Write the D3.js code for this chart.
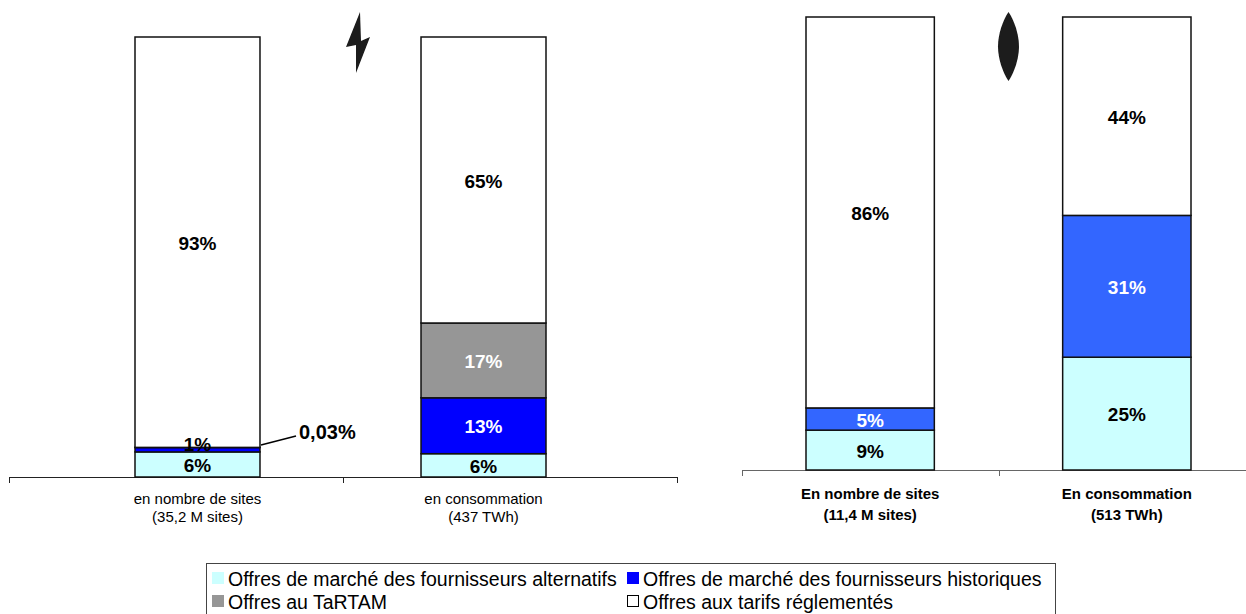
<!DOCTYPE html>
<html>
<head>
<meta charset="utf-8">
<script src="https://cdn.jsdelivr.net/npm/d3@7"></script>
<style>
  html, body { margin: 0; padding: 0; background: #fff; overflow: hidden; }
  svg { display: block; }
  text { font-family: "Liberation Sans", Arial, sans-serif; fill: #000; }
  .value { font-size: 19px; font-weight: bold; text-anchor: middle; dominant-baseline: central; }
  .cat { font-size: 15px; text-anchor: middle; }
  .legend { font-size: 19.5px; dominant-baseline: central; }
</style>
</head>
<body>
<div id="chart"></div>
<script>
const seriesKeys = ['alternatifs', 'historiques', 'tartam', 'reglementes'];

const elecCategories = ['en nombre de sites', 'en consommation'];
const elecSubLabels = ['(35,2 M sites)', '(437 TWh)'];
const elecAlternatifs = [5.7, 5.3];
const elecHistoriques = [1, 12.7];
const elecTartam = [0.03, 17];
const elecReglementes = [93.27, 65];
const elecLabels = [['6%', '1%', '', '93%'], ['6%', '13%', '17%', '65%']];

const gazCategories = ['En nombre de sites', 'En consommation'];
const gazSubLabels = ['(11,4 M sites)', '(513 TWh)'];
const gazAlternatifs = [8.8, 24.9];
const gazHistoriques = [4.9, 31.3];
const gazTartam = [0, 0];
const gazReglementes = [86.3, 43.8];
const gazLabels = [['9%', '5%', '', '86%'], ['25%', '31%', '', '44%']];

const legendLabels = [
  'Offres de marché des fournisseurs alternatifs',
  'Offres de marché des fournisseurs historiques',
  'Offres au TaRTAM',
  'Offres aux tarifs réglementés'
];
const legendColors = ['#ccffff', '#0000ff', '#969696', '#ffffff'];

const svg = d3.select('#chart')
  .append('svg')
  .attr('width', 1246)
  .attr('height', 614);

svg.append('filter').attr('id', 'soft')
  .append('feGaussianBlur').attr('stdDeviation', 0.6);

function toRows(categories, a, b, c, d) {
  return categories.map((name, i) => ({
    name, alternatifs: a[i], historiques: b[i], tartam: c[i], reglementes: d[i]
  }));
}

function drawPanel(opts) {
  const rows = opts.rows;
  const y = d3.scaleLinear().domain([0, 100]).range([opts.bottom, opts.top]);
  const band = d3.scaleBand()
    .domain(rows.map(d => d.name))
    .range(opts.barRange)
    .paddingInner(opts.padding)
    .paddingOuter(0);
  const edges = d3.scaleLinear().domain([0, 2]).range(opts.xRange);
  const color = d3.scaleOrdinal().domain(seriesKeys).range(opts.colors);
  const stacked = d3.stack().keys(seriesKeys)(rows);

  const g = svg.append('g');

  // axis with ticks between the categories
  const axis = d3.axisBottom(edges).tickValues([0, 1, 2]).tickFormat('').tickSize(6).tickSizeOuter(0);
  const ax = g.append('g').attr('transform', `translate(0, ${opts.bottom})`).call(axis);
  ax.selectAll('path, line').attr('stroke', opts.axisColor).attr('stroke-width', 1);

  stacked.forEach(layer => {
    g.append('g').selectAll('rect')
      .data(layer.filter(d => d[1] > d[0]))
      .enter()
      .append('rect')
      .attr('x', d => band(d.data.name))
      .attr('width', band.bandwidth())
      .attr('y', d => y(d[1]))
      .attr('height', d => y(d[0]) - y(d[1]))
      .attr('fill', color(layer.key))
      .attr('stroke', '#111')
      .attr('stroke-width', 1.5);
  });

  stacked.forEach((layer, k) => {
    layer.forEach((d, i) => {
      const label = opts.labels[i][k];
      if (!label) return;
      const white = opts.whiteText.includes(label);
      const nudge = label === '1%' ? -5 : 1;
      g.append('text')
        .attr('class', 'value')
        .attr('x', band(d.data.name) + band.bandwidth() / 2)
        .attr('y', (y(d[0]) + y(d[1])) / 2 + nudge)
        .style('fill', white ? '#fff' : '#000')
        .text(label);
    });
  });

  rows.forEach((d, i) => {
    const cx = band(d.name) + band.bandwidth() / 2;
    const t = g.append('text')
      .attr('class', 'cat')
      .attr('y', opts.bottom + opts.catOffset)
      .style('font-weight', opts.catWeight);
    t.append('tspan').attr('x', cx).text(d.name);
    t.append('tspan').attr('x', cx).attr('dy', opts.catLine).text(opts.subLabels[i]);
  });
}

drawPanel({
  rows: toRows(elecCategories, elecAlternatifs, elecHistoriques, elecTartam, elecReglementes),
  labels: elecLabels,
  subLabels: elecSubLabels,
  colors: ['#ccffff', '#0000ff', '#969696', '#ffffff'],
  whiteText: ['13%', '17%'],
  top: 37, bottom: 477,
  xRange: [9, 677],
  barRange: [135, 546],
  padding: 0.563,
  axisColor: '#222',
  catOffset: 27, catLine: 18,
  catWeight: 'normal'
});

drawPanel({
  rows: toRows(gazCategories, gazAlternatifs, gazHistoriques, gazTartam, gazReglementes),
  labels: gazLabels,
  subLabels: gazSubLabels,
  colors: ['#ccffff', '#3366ff', '#969696', '#ffffff'],
  whiteText: ['5%', '31%'],
  top: 17, bottom: 470,
  xRange: [742, 1256],
  barRange: [806, 1191],
  padding: 0.5,
  axisColor: '#666',
  catOffset: 29, catLine: 21,
  catWeight: 'bold'
});

// callout for the 0,03% TaRTAM share
svg.append('line')
  .attr('x1', 261).attr('y1', 445)
  .attr('x2', 296).attr('y2', 436)
  .attr('stroke', '#000').attr('stroke-width', 1.4);
svg.append('text')
  .attr('x', 299).attr('y', 432)
  .style('font-size', '20px').style('font-weight', 'bold')
  .style('dominant-baseline', 'central')
  .text('0,03%');

// energy icons
svg.append('path')
  .attr('d', 'M360,12 L346,47 L356,45 L356,73 L370,37 L361,41 Z')
  .attr('fill', '#1a1a1a')
  .attr('filter', 'url(#soft)');
svg.append('path')
  .attr('d', 'M1008.5,12 C1003,20 998,34 998,46.5 C998,59 1003,73 1008.5,81 C1014,73 1019,59 1019,46.5 C1019,34 1014,20 1008.5,12 Z')
  .attr('fill', '#1a1a1a')
  .attr('filter', 'url(#soft)');

// legend, its bottom edge runs off the page like in the original
const legend = svg.append('g');
legend.append('rect')
  .attr('x', 206.5).attr('y', 563.5)
  .attr('width', 849).attr('height', 60)
  .attr('fill', '#fff').attr('stroke', '#444').attr('stroke-width', 1);
const legendX = [212, 627];
const legendY = [578, 601];
legendLabels.forEach((label, i) => {
  const col = i % 2;
  const row = Math.floor(i / 2);
  const white = legendColors[i] === '#ffffff';
  legend.append('rect')
    .attr('x', legendX[col] + (white ? 0.5 : 0))
    .attr('y', legendY[row] - 6 + (white ? 0.5 : 0))
    .attr('width', white ? 11 : 12)
    .attr('height', white ? 11 : 12)
    .attr('fill', legendColors[i])
    .attr('stroke', white ? '#000' : 'none');
  legend.append('text')
    .attr('class', 'legend')
    .attr('x', legendX[col] + 16)
    .attr('y', legendY[row] + 1)
    .text(label);
});
</script>
</body>
</html>
